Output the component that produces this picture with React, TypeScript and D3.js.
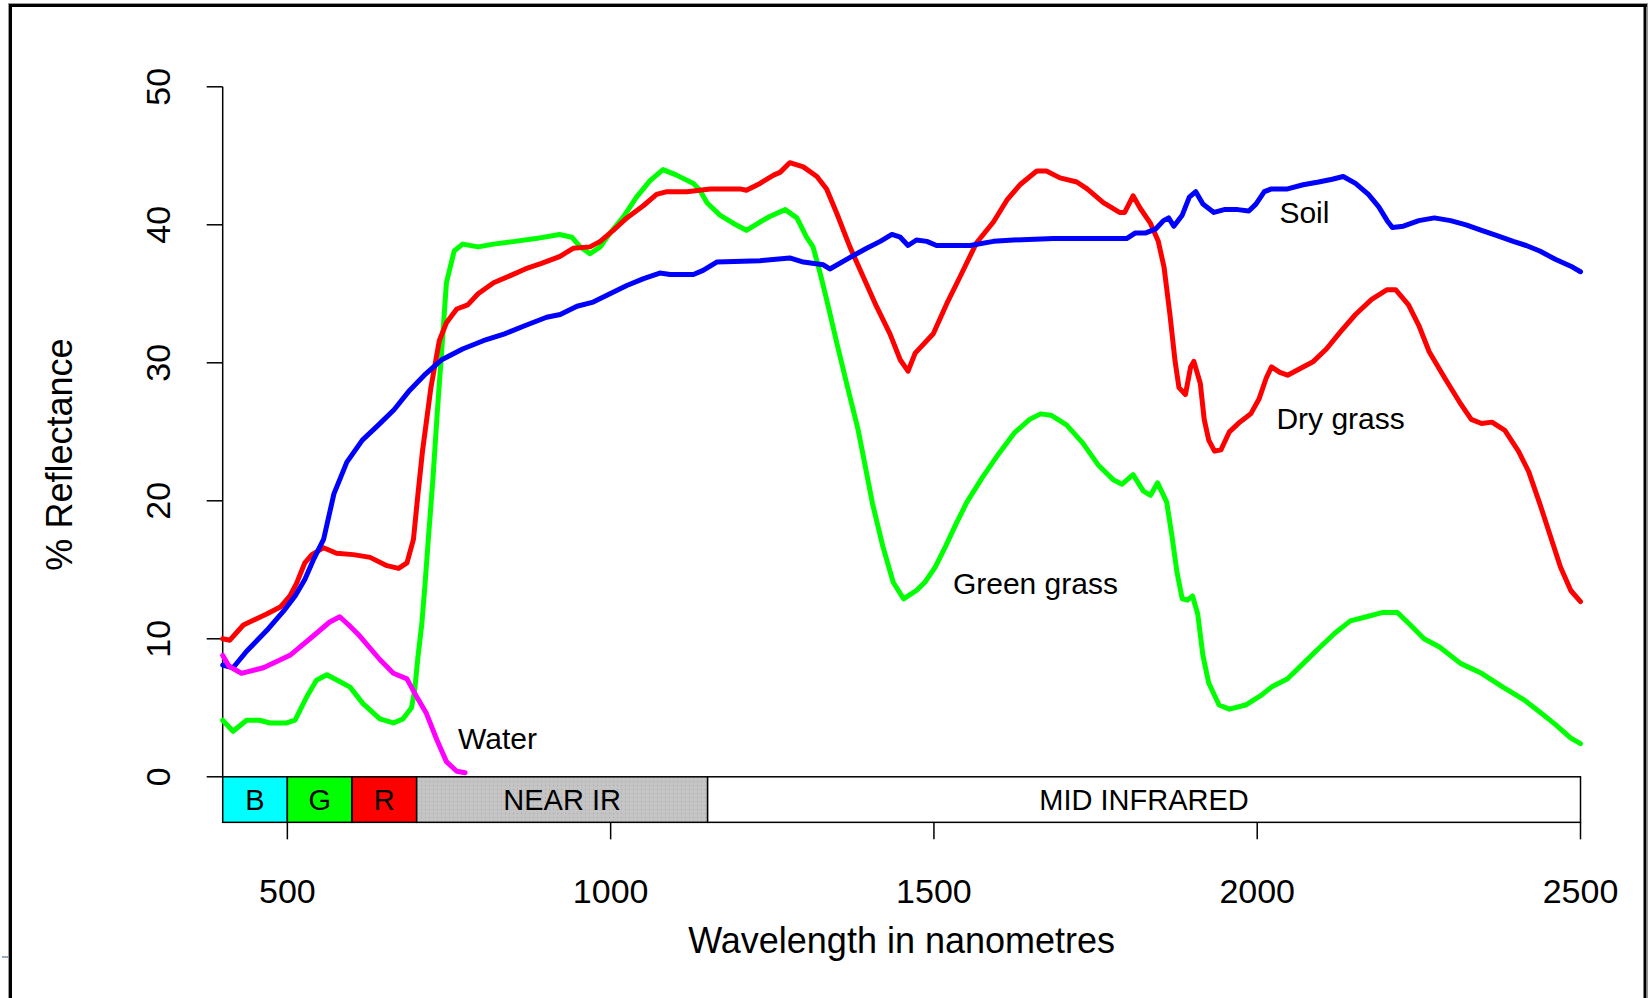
import React from "react";
import * as d3 from "d3";

const greenGrass: [number, number][] = [
  [400,4.1],[416,3.3],[437,4.1],[457,4.1],[473,3.9],[499,3.9],[512,4.1],[530,5.8],[545,7.0],[561,7.4],[581,6.9],[597,6.5],[617,5.3],[643,4.2],[664,3.9],[679,4.2],[692,5.0],[697,6.3],[702,8.7],[708,11.1],[713,14.0],[718,17.2],[725,21.5],[732,26.5],[738,30.4],[746,35.8],[758,38.1],[771,38.6],[795,38.4],[819,38.6],[852,38.8],[884,39.0],[921,39.3],[940,39.1],[953,38.4],[968,37.9],[984,38.4],[999,39.4],[1020,40.6],[1040,42.0],[1061,43.2],[1081,44.0],[1102,43.6],[1128,43.0],[1138,42.5],[1149,41.6],[1169,40.7],[1190,40.1],[1210,39.6],[1231,40.2],[1246,40.6],[1270,41.1],[1288,40.5],[1303,39.1],[1313,38.4],[1324,36.5],[1334,34.6],[1350,31.4],[1365,28.5],[1383,25.1],[1405,19.8],[1421,16.7],[1437,14.1],[1453,12.9],[1463,13.2],[1473,13.5],[1486,14.1],[1502,15.2],[1518,16.7],[1535,18.4],[1551,19.9],[1575,21.7],[1600,23.4],[1624,24.9],[1648,25.9],[1665,26.3],[1681,26.2],[1705,25.5],[1730,24.2],[1754,22.6],[1778,21.5],[1791,21.2],[1808,21.9],[1824,20.7],[1835,20.4],[1846,21.3],[1860,19.9],[1868,17.5],[1876,14.8],[1884,12.9],[1892,12.8],[1900,13.1],[1908,11.8],[1916,8.8],[1925,6.8],[1941,5.2],[1957,4.9],[1982,5.2],[2006,5.9],[2022,6.5],[2047,7.1],[2071,8.2],[2095,9.3],[2120,10.4],[2144,11.3],[2169,11.6],[2193,11.9],[2217,11.9],[2237,11.0],[2258,10.0],[2282,9.4],[2315,8.2],[2347,7.5],[2380,6.5],[2412,5.6],[2437,4.7],[2461,3.8],[2485,2.8],[2500,2.4]
];

const dryGrass: [number, number][] = [
  [400,10.0],[411,9.9],[432,11.0],[468,11.8],[489,12.3],[504,13.1],[514,14.0],[527,15.5],[538,16.1],[556,16.6],[576,16.2],[602,16.1],[628,15.9],[654,15.3],[672,15.1],[685,15.5],[695,17.2],[702,20.5],[709,23.6],[722,28.2],[735,31.6],[746,32.9],[762,33.9],[779,34.2],[795,35.0],[819,35.8],[844,36.3],[868,36.8],[893,37.2],[921,37.7],[942,38.3],[968,38.4],[984,38.8],[1004,39.6],[1025,40.5],[1051,41.4],[1071,42.2],[1087,42.4],[1118,42.4],[1154,42.6],[1200,42.6],[1210,42.5],[1231,43.0],[1252,43.6],[1262,43.8],[1277,44.5],[1298,44.2],[1319,43.5],[1334,42.6],[1350,40.8],[1370,38.4],[1391,36.2],[1411,34.1],[1432,32.1],[1448,30.2],[1460,29.4],[1471,30.7],[1499,32.1],[1520,34.3],[1540,36.2],[1566,38.7],[1592,40.2],[1613,41.8],[1633,42.9],[1659,43.9],[1674,43.9],[1695,43.4],[1721,43.1],[1737,42.6],[1762,41.6],[1787,40.9],[1795,40.9],[1808,42.1],[1819,41.2],[1835,40.1],[1847,38.8],[1856,36.9],[1865,33.5],[1873,30.1],[1879,28.2],[1889,27.7],[1897,29.7],[1902,30.1],[1912,28.5],[1918,25.9],[1925,24.4],[1934,23.6],[1944,23.7],[1957,25.0],[1973,25.7],[1990,26.3],[2003,27.4],[2014,28.9],[2022,29.7],[2035,29.3],[2047,29.1],[2063,29.5],[2087,30.1],[2107,31.0],[2128,32.2],[2152,33.5],[2177,34.6],[2201,35.3],[2214,35.3],[2234,34.2],[2250,32.7],[2266,30.8],[2290,28.9],[2315,27.0],[2331,25.9],[2347,25.6],[2363,25.7],[2383,25.1],[2404,23.6],[2420,22.1],[2437,19.8],[2453,17.5],[2469,15.2],[2485,13.5],[2500,12.7]
];

const soil: [number, number][] = [
  [400,8.1],[416,7.9],[437,9.1],[468,10.6],[494,12.0],[512,13.1],[527,14.3],[540,15.7],[556,17.2],[572,20.5],[592,22.8],[616,24.4],[641,25.5],[665,26.6],[689,28.0],[714,29.2],[738,30.2],[771,31.0],[803,31.6],[836,32.1],[868,32.7],[901,33.3],[922,33.5],[948,34.1],[973,34.4],[999,35.0],[1025,35.6],[1051,36.1],[1076,36.5],[1092,36.4],[1128,36.4],[1143,36.7],[1164,37.3],[1231,37.4],[1277,37.6],[1298,37.3],[1329,37.1],[1339,36.8],[1365,37.5],[1396,38.3],[1417,38.8],[1435,39.3],[1448,39.1],[1460,38.5],[1473,38.9],[1489,38.8],[1504,38.5],[1556,38.5],[1592,38.8],[1623,38.9],[1685,39.0],[1730,39.0],[1778,39.0],[1798,39.0],[1811,39.4],[1827,39.4],[1843,39.7],[1855,40.3],[1863,40.5],[1871,39.9],[1884,40.7],[1895,42.0],[1905,42.4],[1916,41.5],[1933,40.9],[1949,41.1],[1970,41.1],[1987,41.0],[1998,41.5],[2011,42.4],[2022,42.6],[2047,42.6],[2071,42.9],[2095,43.1],[2116,43.3],[2133,43.5],[2152,43.0],[2172,42.2],[2188,41.3],[2201,40.3],[2209,39.8],[2226,39.9],[2250,40.3],[2274,40.5],[2299,40.3],[2323,40.0],[2347,39.6],[2372,39.2],[2396,38.8],[2416,38.5],[2437,38.1],[2461,37.5],[2485,37.0],[2500,36.6]
];

const water: [number, number][] = [
  [400,8.8],[410,8.0],[429,7.5],[463,7.9],[504,8.8],[540,10.2],[565,11.2],[581,11.6],[595,11.0],[612,10.2],[643,8.5],[664,7.5],[685,7.1],[700,5.8],[715,4.6],[731,2.7],[746,1.1],[762,0.4],[775,0.3]
];

const seriesColors = ["#00ff00", "#ff0000", "#0000ff", "#ff00ff"];
const seriesList = [greenGrass, dryGrass, soil, water];

const seriesLabels: { text: string; w: number; v: number }[] = [
  { text: "Soil", w: 2073, v: 40.9 },
  { text: "Dry grass", w: 2129, v: 26.0 },
  { text: "Green grass", w: 1657, v: 14.0 },
  { text: "Water", w: 825, v: 2.75 },
];

const bands: { label: string; from: number; to: number; fill: string }[] = [
  { label: "B", from: 400, to: 500, fill: "#00ffff" },
  { label: "G", from: 500, to: 600, fill: "#00ff00" },
  { label: "R", from: 600, to: 700, fill: "#ff0000" },
  { label: "NEAR IR", from: 700, to: 1150, fill: "url(#stipple)" },
  { label: "MID INFRARED", from: 1150, to: 2500, fill: "#ffffff" },
];

const xTicks = [500, 1000, 1500, 2000, 2500];
const yTicks = [0, 10, 20, 30, 40, 50];

const FONT = "'Liberation Sans', Arial, Helvetica, sans-serif";

export default function App() {
  const x = d3.scaleLinear().domain([400, 2500]).range([222.7, 1580.5]);
  const y = d3.scaleLinear().domain([0, 50]).range([776.8, 86.8]);
  const bandBottom = y(-3.3);
  const line = d3
    .line<[number, number]>()
    .x((d) => x(d[0]))
    .y((d) => y(d[1]));

  return (
    <svg
      width={1648}
      height={998}
      style={{ position: "fixed", left: 0, top: 0, background: "#fff" }}
      fontFamily={FONT}
    >
      <defs>
        <pattern id="stipple" width={4} height={4} patternUnits="userSpaceOnUse">
          <rect width={4} height={4} fill="#c4c4c4" />
          <rect x={1} y={1} width={1} height={1} fill="#a8a8a8" />
        </pattern>
      </defs>
      <rect x={0} y={0} width={1648} height={998} fill="#fff" />

      {/* outer frame */}
      <line x1={8.5} y1={3} x2={8.5} y2={998} stroke="#999" strokeWidth={1} />
      <line x1={8} y1={3.5} x2={1648} y2={3.5} stroke="#999" strokeWidth={1} />
      <line x1={1647.5} y1={3} x2={1647.5} y2={998} stroke="#999" strokeWidth={1} />
      <line x1={10.5} y1={5.5} x2={10.5} y2={998} stroke="#000" strokeWidth={3} />
      <line x1={9} y1={5.5} x2={1647} y2={5.5} stroke="#000" strokeWidth={3} />
      <line x1={1645} y1={5.5} x2={1645} y2={998} stroke="#000" strokeWidth={3} />
      <line x1={2} y1={957} x2={8} y2={957} stroke="#9ab" strokeWidth={2} />

      {/* bands */}
      {bands.map((b) => (
        <g key={b.label}>
          <rect
            x={x(b.from)}
            y={y(0)}
            width={x(b.to) - x(b.from)}
            height={bandBottom - y(0)}
            fill={b.fill}
            stroke="#000"
            strokeWidth={1.5}
          />
          <text
            x={(x(b.from) + x(b.to)) / 2}
            y={(y(0) + bandBottom) / 2 + 10.5}
            textAnchor="middle"
            fontSize={29}
            fill="#000"
          >
            {b.label}
          </text>
        </g>
      ))}

      {/* y axis */}
      <line x1={x(400)} y1={y(0)} x2={x(400)} y2={y(50)} stroke="#000" strokeWidth={1.5} />
      {yTicks.map((t) => (
        <g key={t}>
          <line x1={x(400) - 16} y1={y(t)} x2={x(400)} y2={y(t)} stroke="#000" strokeWidth={1.5} />
          <text
            transform={`translate(170,${y(t)}) rotate(-90)`}
            textAnchor="middle"
            fontSize={34}
            fill="#000"
          >
            {t}
          </text>
        </g>
      ))}

      {/* x axis */}
      {xTicks.map((t) => (
        <g key={t}>
          <line x1={x(t)} y1={bandBottom} x2={x(t)} y2={bandBottom + 17} stroke="#000" strokeWidth={1.5} />
          <text x={x(t)} y={903} textAnchor="middle" fontSize={34} fill="#000">
            {t}
          </text>
        </g>
      ))}

      <text x={(x(400) + x(2500)) / 2} y={953} textAnchor="middle" fontSize={36} fill="#000">
        Wavelength in nanometres
      </text>
      <text
        transform={`translate(72,${(y(50) + bandBottom) / 2}) rotate(-90)`}
        textAnchor="middle"
        fontSize={36}
        fill="#000"
      >
        % Reflectance
      </text>

      {/* curves */}
      {seriesList.map((s, i) => (
        <path
          key={i}
          d={line(s) || ""}
          fill="none"
          stroke={seriesColors[i]}
          strokeWidth={5}
          strokeLinejoin="round"
          strokeLinecap="round"
        />
      ))}

      {seriesLabels.map((l) => (
        <text key={l.text} x={x(l.w)} y={y(l.v)} dy="0.35em" textAnchor="middle" fontSize={30} fill="#000">
          {l.text}
        </text>
      ))}
    </svg>
  );
}
